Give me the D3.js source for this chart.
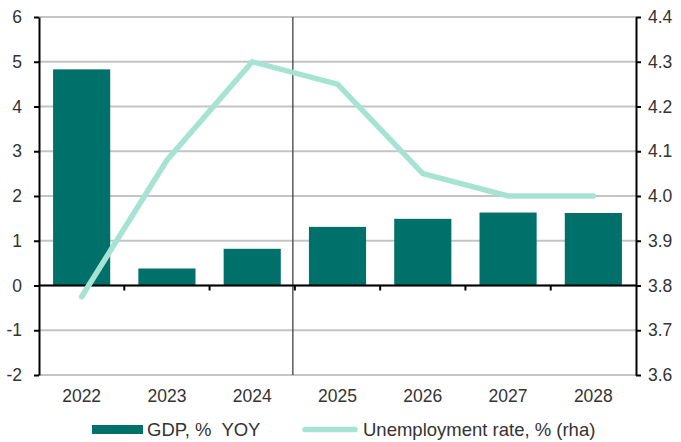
<!DOCTYPE html>
<html>
<head>
<meta charset="utf-8">
<script src="https://cdn.jsdelivr.net/npm/d3@7"></script>
<style>
  html, body { margin: 0; padding: 0; background: #fff; }
  svg { display: block; font-family: "Liberation Sans", Arial, sans-serif; }
  text { white-space: pre; }
</style>
</head>
<body>
<svg id="chart" width="681" height="442"></svg>
<script>
// Chart data
const years = ["2022", "2023", "2024", "2025", "2026", "2027", "2028"];
const gdpYoY = [4.83, 0.38, 0.82, 1.31, 1.49, 1.63, 1.62];
const unemployment = [3.775, 4.08, 4.30, 4.25, 4.05, 4.00, 4.00];
const leftTicks = [-2, -1, 0, 1, 2, 3, 4, 5, 6];
const rightTicks = [3.6, 3.7, 3.8, 3.9, 4.0, 4.1, 4.2, 4.3, 4.4];
const forecastStart = "2025";
const legendLabels = ["GDP, %  YOY", "Unemployment rate, % (rha)"];

const barColor = "#00706b";
const lineColor = "#a6e3d3";
const textColor = "#333333";
const fontSize = 17.5;
const legendFontSize = 18.5;

const svg = d3.select("#chart");
const m = { left: 39, right: 636, top: 17, bottom: 375 };

const x = d3.scaleBand().domain(years).range([m.left, m.right]).paddingInner(0.33).paddingOuter(0.165);
const xBand = d3.scaleBand().domain(years).range([m.left, m.right]);
const yL = d3.scaleLinear().domain([-2, 6]).range([m.bottom, m.top]);
const yR = d3.scaleLinear().domain([3.6, 4.4]).range([m.bottom, m.top]);

// Horizontal gridlines
svg.append("g").selectAll("line").data(leftTicks).join("line")
  .attr("x1", m.left).attr("x2", m.right)
  .attr("y1", d => yL(d)).attr("y2", d => yL(d))
  .attr("stroke", "#c4c4c4").attr("stroke-width", 2);

// Bars
svg.append("g").selectAll("rect").data(years).join("rect")
  .attr("x", d => x(d))
  .attr("width", x.bandwidth())
  .attr("y", (d, i) => yL(Math.max(0, gdpYoY[i])))
  .attr("height", (d, i) => Math.abs(yL(gdpYoY[i]) - yL(0)))
  .attr("fill", barColor);

// Forecast divider
const divX = xBand(forecastStart) - 2;
svg.append("line")
  .attr("x1", divX).attr("x2", divX)
  .attr("y1", m.top).attr("y2", m.bottom)
  .attr("stroke", "#404040").attr("stroke-width", 1.3);

// Zero line with category ticks
svg.append("line")
  .attr("x1", m.left).attr("x2", m.right)
  .attr("y1", yL(0)).attr("y2", yL(0))
  .attr("stroke", "#000").attr("stroke-width", 2);
svg.append("g").selectAll("line").data(years.slice(1)).join("line")
  .attr("x1", d => xBand(d)).attr("x2", d => xBand(d))
  .attr("y1", yL(0)).attr("y2", yL(0) + 5)
  .attr("stroke", "#000").attr("stroke-width", 2);

// Left axis (plain hyphen for negatives)
const leftAxis = svg.append("g").attr("transform", `translate(${m.left},0)`)
  .call(d3.axisLeft(yL).tickValues(leftTicks).tickFormat(d => String(d)).tickSize(5).tickPadding(12).tickSizeOuter(0));
leftAxis.select(".domain").attr("stroke", "#000").attr("stroke-width", 2);
leftAxis.selectAll(".tick line").attr("stroke", "#000").attr("stroke-width", 2);
leftAxis.selectAll("text").attr("font-size", fontSize).attr("fill", textColor)
  .attr("font-family", "Liberation Sans, Arial, sans-serif");

// Right axis
const rightAxis = svg.append("g").attr("transform", `translate(${m.right},0)`)
  .call(d3.axisRight(yR).tickValues(rightTicks).tickFormat(d => d.toFixed(1)).tickSize(5).tickPadding(7).tickSizeOuter(0));
rightAxis.select(".domain").attr("stroke", "#000").attr("stroke-width", 2);
rightAxis.selectAll(".tick line").attr("stroke", "#000").attr("stroke-width", 2);
rightAxis.selectAll("text").attr("font-size", fontSize).attr("fill", textColor)
  .attr("font-family", "Liberation Sans, Arial, sans-serif");

// Category labels
svg.append("g").selectAll("text").data(years).join("text")
  .attr("x", d => xBand(d) + xBand.bandwidth() / 2)
  .attr("y", 402)
  .attr("text-anchor", "middle")
  .attr("font-size", fontSize).attr("fill", textColor)
  .text(d => d);

// Unemployment line
const line = d3.line()
  .x((d, i) => xBand(years[i]) + xBand.bandwidth() / 2)
  .y(d => yR(d));
svg.append("path").datum(unemployment)
  .attr("d", line)
  .attr("fill", "none")
  .attr("stroke", lineColor).attr("stroke-width", 5.5)
  .attr("stroke-linecap", "round").attr("stroke-linejoin", "miter");

// Legend
const lg = svg.append("g");
lg.append("rect").attr("x", 92).attr("y", 425).attr("width", 51).attr("height", 9).attr("fill", barColor);
lg.append("text").attr("x", 147).attr("y", 436).attr("font-size", legendFontSize).attr("fill", textColor).text(legendLabels[0]);
lg.append("line").attr("x1", 305).attr("x2", 355).attr("y1", 429.5).attr("y2", 429.5)
  .attr("stroke", lineColor).attr("stroke-width", 5.5).attr("stroke-linecap", "round");
lg.append("text").attr("x", 363).attr("y", 436).attr("font-size", legendFontSize).attr("fill", textColor).text(legendLabels[1]);
</script>
</body>
</html>
